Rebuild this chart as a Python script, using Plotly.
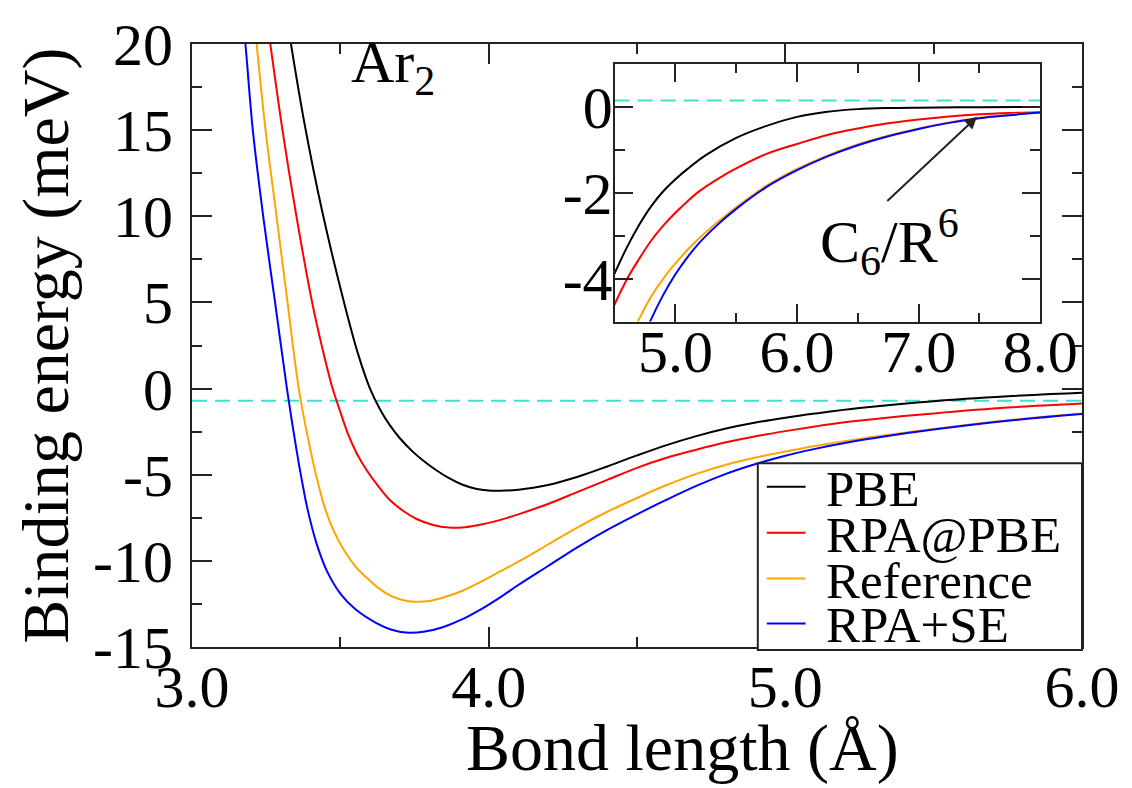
import plotly.graph_objects as go

# ---------------- data ----------------
R_PBE = [3.30, 3.329, 3.379, 3.44, 3.514, 3.56, 3.60, 3.635, 3.665, 3.70, 3.744, 3.78, 3.82, 3.865,
         3.91, 3.96, 4.01, 4.06, 4.1, 4.15, 4.2, 4.3, 4.4, 4.5, 4.6, 4.7, 4.8, 4.9, 5.0, 5.1, 5.25, 5.5,
         5.75, 6.0, 6.25, 6.5, 6.75, 7.0, 7.5, 8.0]
E_PBE = [23.8, 20.5, 15.4, 10.2, 4.9, 2.0, 0.0, -1.24, -2.08, -2.87, -3.66, -4.19, -4.7, -5.19,
         -5.57, -5.83, -5.93, -5.92, -5.87, -5.76, -5.6, -5.12, -4.52, -3.88, -3.28, -2.76, -2.32, -1.97,
         -1.69, -1.45, -1.13, -0.73, -0.45, -0.24, -0.12, -0.06, -0.035, -0.025, -0.015, -0.01]

R_RPA = [3.24, 3.264, 3.305, 3.352, 3.405, 3.44, 3.474, 3.50, 3.525, 3.555, 3.59, 3.625, 3.667, 3.71,
         3.757, 3.81, 3.866, 3.92, 3.975, 4.04, 4.1, 4.2, 4.3, 4.4, 4.5, 4.6, 4.7, 4.8, 4.9, 5.0, 5.1,
         5.2, 5.35, 5.5, 5.75, 6.0, 6.25, 6.5, 6.75, 7.0, 7.25, 7.5, 7.75, 8.0]
E_RPA = [23.0, 20.0, 15.0, 10.0, 5.0, 2.3, 0.0, -1.35, -2.6, -3.75, -4.77, -5.6, -6.47, -7.08,
         -7.57, -7.9, -8.07, -8.05, -7.89, -7.62, -7.3, -6.7, -6.0, -5.3, -4.6, -4.02, -3.55, -3.12,
         -2.77, -2.47, -2.2, -1.96, -1.68, -1.44, -1.1, -0.87, -0.66, -0.51, -0.39, -0.3, -0.23, -0.18,
         -0.15, -0.13]

R_REF = [3.20, 3.218, 3.248, 3.285, 3.322, 3.36, 3.40, 3.425, 3.45, 3.48, 3.51, 3.55, 3.59, 3.63,
         3.672, 3.71, 3.75, 3.80, 3.845, 3.91, 3.975, 4.04, 4.1, 4.2, 4.3, 4.4, 4.5, 4.6, 4.7, 4.8, 4.9,
         5.0, 5.1, 5.2, 5.35, 5.5, 5.75, 6.0, 6.25, 6.5, 6.75, 7.0, 7.25, 7.5, 7.75, 8.0]
E_REF = [23.5, 20.0, 15.0, 10.0, 5.0, 0.0, -3.63, -5.5, -7.04, -8.35, -9.31, -10.3, -11.0, -11.6,
         -12.05, -12.27, -12.37, -12.33, -12.14, -11.75, -11.2, -10.6, -10.05, -9.05, -8.05, -7.15,
         -6.35, -5.6, -4.95, -4.42, -4.0, -3.65, -3.33, -3.05, -2.68, -2.34, -1.84, -1.45, -1.14,
         -0.88, -0.68, -0.51, -0.37, -0.26, -0.19, -0.14]

R_SE = [3.165, 3.18, 3.205, 3.24, 3.28, 3.32, 3.353, 3.37, 3.39, 3.42, 3.455, 3.50, 3.55, 3.62, 3.67,
        3.723, 3.78, 3.845, 3.91, 3.975, 4.04, 4.1, 4.2, 4.3, 4.4, 4.5, 4.6, 4.7, 4.8, 4.9, 5.0, 5.1,
        5.2, 5.35, 5.5, 5.75, 6.0, 6.25, 6.5, 6.75, 7.0, 7.25, 7.5, 7.75, 8.0]
E_SE = [22.5, 20.0, 15.0, 10.0, 5.0, 0.0, -3.63, -5.3, -7.04, -9.0, -10.6, -11.9, -12.8, -13.6, -13.98,
        -14.16, -14.12, -13.85, -13.4, -12.8, -12.1, -11.4, -10.3, -9.2, -8.2, -7.3, -6.45, -5.65,
        -4.95, -4.38, -3.9, -3.5, -3.16, -2.74, -2.38, -1.87, -1.48, -1.16, -0.9, -0.69, -0.52, -0.38,
        -0.27, -0.2, -0.14]

SERIES_NAMES = ["PBE", "RPA@PBE", "Reference", "RPA+SE"]

MAIN_X_TICKS = [3, 4, 5, 6]
MAIN_X_LABELS = ["3.0", "4.0", "5.0", "6.0"]
MAIN_X_MINOR = [3.5, 4.5, 5.5]
MAIN_Y_TICKS = [-15, -10, -5, 0, 5, 10, 15, 20]
MAIN_Y_LABELS = ["-15", "-10", "-5", "0", "5", "10", "15", "20"]
MAIN_Y_MINOR = [-12.5, -7.5, -2.5, 2.5, 7.5, 12.5, 17.5]

INSET_X_TICKS = [5, 6, 7, 8]
INSET_X_LABELS = ["5.0", "6.0", "7.0", "8.0"]
INSET_X_MINOR = [5.5, 6.5, 7.5]
INSET_Y_TICKS = [-4, -2, 0]
INSET_Y_LABELS = ["-4", "-2", "0"]
INSET_Y_MINOR = [-3, -1]

MAIN_ZERO_LEVEL = -0.7     # dashed reference line as drawn in the main panel
INSET_ZERO_LEVEL = 0.14    # dashed reference line as drawn in the inset

# ---------------- styling / layout ----------------
W, H = 1132, 788
ML, MR, MT, MB = 192, 45, 30, 141
PW, PH = W - ML - MR, H - MT - MB

def px(xp):
    return (xp - ML) / PW

def py(yp):
    return (H - MB - yp) / PH

FONT = "Liberation Serif"
AX = "#222222"
COLORS = ["#000000", "#ff0000", "#ffa500", "#0000ff"]
TEAL = "#40e0d0"

data = [(R_PBE, E_PBE), (R_RPA, E_RPA), (R_REF, E_REF), (R_SE, E_SE)]

fig = go.Figure()
for xa, ya in (("x", "y"), ("x2", "y2")):
    for (xs, ys), name, col in zip(data, SERIES_NAMES, COLORS):
        fig.add_trace(go.Scatter(x=xs, y=ys, name=name, mode="lines",
                                 line=dict(color=col, width=2, shape="spline", smoothing=1.0),
                                 xaxis=xa, yaxis=ya, showlegend=False, hoverinfo="skip"))


def axis(rng, tv, tt, minor_vals, domain, anchor, standoff=0, major_len=20, minor_len=10):
    return dict(range=rng, tickmode="array", tickvals=tv, ticktext=tt,
                ticks="inside", ticklen=major_len, tickwidth=2, tickcolor=AX,
                showline=True, linewidth=2, linecolor=AX, mirror="ticks",
                showgrid=False, zeroline=False, domain=domain, anchor=anchor,
                tickfont=dict(family=FONT, size=60, color="black"),
                ticklabelstandoff=standoff, ticklabeloverflow="allow",
                minor=dict(tickmode="array", tickvals=minor_vals, ticks="inside",
                           ticklen=minor_len, tickwidth=2, tickcolor=AX, showgrid=False))


INSET_L, INSET_R, INSET_T, INSET_B = 617, 1045, 50, 314

fig.update_layout(
    width=W, height=H,
    margin=dict(l=ML, r=MR, t=MT, b=MB, pad=0),
    paper_bgcolor="white", plot_bgcolor="white",
    showlegend=False,
    xaxis=axis([3, 6], MAIN_X_TICKS, MAIN_X_LABELS, MAIN_X_MINOR, [0, 1], "y", standoff=-14),
    yaxis=axis([-15, 20], MAIN_Y_TICKS, MAIN_Y_LABELS, MAIN_Y_MINOR, [0, 1], "x", standoff=5),
    xaxis2=axis([4.5, 8.0], INSET_X_TICKS, INSET_X_LABELS, INSET_X_MINOR,
                [px(INSET_L), px(INSET_R)], "y2", standoff=-24, major_len=18, minor_len=9),
    yaxis2=axis([-5, 1], INSET_Y_TICKS, INSET_Y_LABELS, INSET_Y_MINOR,
                [py(INSET_B), py(INSET_T)], "x2", standoff=-12, major_len=18, minor_len=10),
)

shapes = [
    dict(type="line", xref="x", yref="y", x0=3, x1=6, y0=MAIN_ZERO_LEVEL, y1=MAIN_ZERO_LEVEL,
         line=dict(color=TEAL, width=2, dash="15px,8px"), layer="below"),
    dict(type="line", xref="x2", yref="y2", x0=4.5, x1=8.0, y0=INSET_ZERO_LEVEL, y1=INSET_ZERO_LEVEL,
         line=dict(color=TEAL, width=2, dash="15px,8px"), layer="below"),
]

# manual legend box
LEG_L, LEG_R, LEG_T, LEG_B = 761, 1087, 459, 650
shapes.append(dict(type="rect", xref="paper", yref="paper",
                   x0=px(LEG_L), x1=px(LEG_R), y0=py(LEG_B), y1=py(LEG_T),
                   line=dict(color=AX, width=2), fillcolor="white", layer="above"))
annotations = []
LEG_ROWS = [483, 530, 577, 623]
for name, col, yrow in zip(SERIES_NAMES, COLORS, LEG_ROWS):
    shapes.append(dict(type="line", xref="paper", yref="paper",
                       x0=px(770), x1=px(809), y0=py(yrow), y1=py(yrow),
                       line=dict(color=col, width=2), layer="above"))
    annotations.append(dict(text=name, xref="paper", yref="paper", x=px(828), y=py(yrow + 2),
                            xanchor="left", yanchor="middle", showarrow=False,
                            font=dict(family=FONT, size=51, color="black")))

# axis titles
annotations.append(dict(text="Bond length (Å)", xref="paper", yref="paper", x=px(685), y=py(750),
                        xanchor="center", yanchor="middle", showarrow=False,
                        font=dict(family=FONT, size=66, color="black")))
annotations.append(dict(text="Binding energy (meV)", xref="paper", yref="paper", x=px(45), y=py(339),
                        xanchor="center", yanchor="middle", textangle=-90, showarrow=False,
                        font=dict(family=FONT, size=66, color="black")))
# labels
annotations.append(dict(text="Ar<sub>2</sub>", xref="x", yref="y", x=3.53, y=18.7,
                        xanchor="left", yanchor="middle", showarrow=False,
                        font=dict(family=FONT, size=60, color="black")))
annotations.append(dict(text="C<sub>6</sub>/R<sup>6</sup>", xref="x2", yref="y2", x=6.17, y=-3.14,
                        xanchor="left", yanchor="middle", showarrow=False,
                        font=dict(family=FONT, size=60, color="black")))
annotations.append(dict(text="", xref="x2", yref="y2", x=7.48, y=-0.24,
                        axref="x2", ayref="y2", ax=6.73, ay=-2.23,
                        showarrow=True, arrowhead=2, arrowsize=1.2, arrowwidth=2, arrowcolor=AX))

fig.update_layout(shapes=shapes, annotations=annotations)
fig.write_html("out.html")
